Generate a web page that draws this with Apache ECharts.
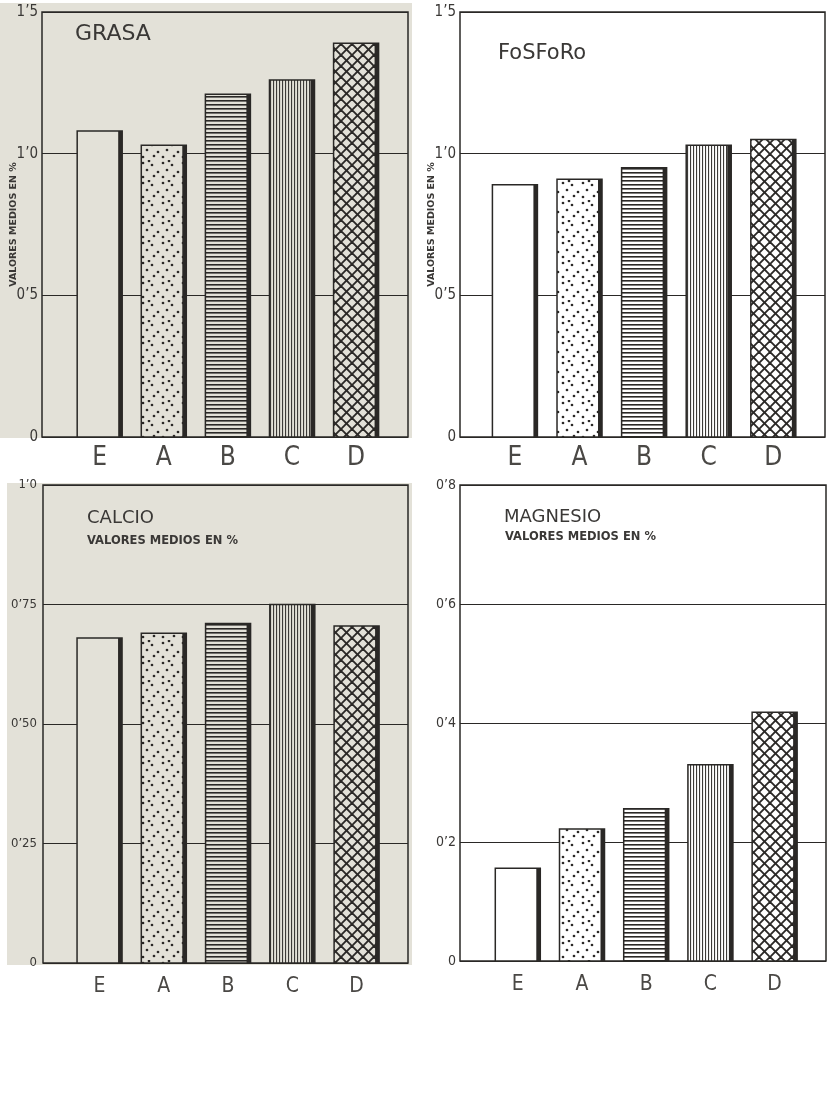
<!DOCTYPE html>
<html>
<head>
<meta charset="utf-8">
<script src="https://cdn.jsdelivr.net/npm/echarts@6/dist/echarts.min.js"></script>
<style>
html,body{margin:0;padding:0;background:#fff;}
#chart{width:831px;height:1098px;}
</style>
</head>
<body>
<div id="chart"></div>
<script>
// ---- data ----
const categories = ['E', 'A', 'B', 'C', 'D'];
const grasaValues = [1.08, 1.03, 1.21, 1.26, 1.39];
const fosforoValues = [0.89, 0.91, 0.95, 1.03, 1.05];
const calcioValues = [0.68, 0.69, 0.71, 0.75, 0.705];
const magnesioValues = [0.156, 0.222, 0.256, 0.33, 0.418];
const grasaTicks = ['0', '0\u20195', '1\u20190', '1\u20195'];
const fosforoTicks = ['0', '0\u20195', '1\u20190', '1\u20195'];
const calcioTicks = ['0', '0\u201925', '0\u201950', '0\u201975', '1\u20190'];
const magnesioTicks = ['0', '0\u20192', '0\u20194', '0\u20196', '0\u20198'];
const panelTitles = ['GRASA', 'FoSFoRo', 'CALCIO', 'MAGNESIO'];
const subtitleText = 'VALORES MEDIOS EN %';

// ---- styling helpers ----
const GRAY = '#e3e1d8';
const INK = '#2a2826';
const TEXT = '#3a3836';

function makeTile(type, bg) {
  const c = document.createElement('canvas');
  let w = 8, h = 8;
  if (type === 'dots') { w = 20; h = 20; }
  if (type === 'hlines') { w = 8; h = 4; }
  if (type === 'vlines') { w = 3; h = 8; }
  if (type === 'cross') { w = 11; h = 11; }
  c.width = w; c.height = h;
  const g = c.getContext('2d');
  g.fillStyle = bg; g.fillRect(0, 0, w, h);
  g.fillStyle = INK; g.strokeStyle = INK;
  if (type === 'dots') {
    const pts = [[3,3],[12,5],[18,12],[7,10],[14,16],[3,17],[9,1]];
    pts.forEach(p => { g.beginPath(); g.arc(p[0], p[1], 1.35, 0, Math.PI * 2); g.fill(); });
  } else if (type === 'hlines') {
    g.fillRect(0, 0, w, 1.6);
  } else if (type === 'vlines') {
    g.fillStyle = '#3c3a38';
    g.fillRect(0, 0, 1.1, h);
  } else if (type === 'cross') {
    g.lineWidth = 1.9;
    for (let o = -w; o <= w; o += w) {
      g.beginPath(); g.moveTo(o, 0); g.lineTo(o + w, h); g.stroke();
      g.beginPath(); g.moveTo(o + w, 0); g.lineTo(o, h); g.stroke();
    }
  }
  return c;
}
const patternTypes = ['plain', 'dots', 'hlines', 'vlines', 'cross'];
function fillFor(type, bg) {
  if (type === 'plain') return bg;
  return { type: 'pattern', image: makeTile(type, bg), repeat: 'repeat' };
}

const panels = [
  { values: grasaValues, ticks: grasaTicks, max: 1.5, interval: 0.5, bg: GRAY,
    grid: { left: 42, top: 12, width: 366, height: 425 }, xmin: -0.9, xmax: 4.81,
    yName: subtitleText, xFont: 26, xMargin: 8, yFont: 15, yMargin: 4 },
  { values: fosforoValues, ticks: fosforoTicks, max: 1.5, interval: 0.5, bg: '#ffffff',
    grid: { left: 460, top: 12, width: 365, height: 425 }, xmin: -0.85, xmax: 4.8,
    yName: subtitleText, xFont: 26, xMargin: 8, yFont: 15, yMargin: 4 },
  { values: calcioValues, ticks: calcioTicks, max: 1.0, interval: 0.25, bg: GRAY,
    grid: { left: 43, top: 485, width: 365, height: 478 }, xmin: -0.88, xmax: 4.8,
    yName: '', xFont: 21, xMargin: 13, yFont: 13, yMargin: 6 },
  { values: magnesioValues, ticks: magnesioTicks, max: 0.8, interval: 0.2, bg: '#ffffff',
    grid: { left: 460, top: 485, width: 366, height: 476 }, xmin: -0.9, xmax: 4.8,
    yName: '', xFont: 21, xMargin: 13, yFont: 14, yMargin: 4 }
];

const labelFont = "'Liberation Sans Narrow', 'DejaVu Sans Condensed', sans-serif";
const BAR_W = 45, EDGE = 4;

const grids = [], xAxes = [], yAxes = [], series = [];
panels.forEach((p, i) => {
  const fills = patternTypes.map(t => fillFor(t, p.bg));
  grids.push(Object.assign({ show: true, borderColor: INK, borderWidth: 1.5, backgroundColor: 'transparent' }, p.grid));
  xAxes.push({
    type: 'value', gridIndex: i, min: p.xmin, max: p.xmax,
    axisLine: { show: false }, axisTick: { show: false }, splitLine: { show: false },
    axisLabel: {
      customValues: categories.map((c, k) => k),
      formatter: v => categories[Math.round(v)] || '',
      color: '#4a4845', fontSize: p.xFont, fontFamily: labelFont, margin: p.xMargin
    }
  });
  yAxes.push({
    type: 'value', gridIndex: i, min: 0, max: p.max, interval: p.interval,
    axisLine: { show: false }, axisTick: { show: false },
    splitLine: { show: true, lineStyle: { color: INK, width: 1.2 } },
    axisLabel: {
      formatter: v => p.ticks[Math.round(v / p.interval)],
      color: TEXT, fontSize: p.yFont, fontFamily: labelFont, margin: p.yMargin
    },
    name: p.yName, nameLocation: 'middle', nameGap: 23, nameRotate: 90, nameMoveOverlap: false,
    nameTextStyle: { fontSize: 9.5, fontWeight: 'bold', color: TEXT, fontFamily: "'DejaVu Sans', sans-serif" }
  });
  series.push({
    type: 'custom', xAxisIndex: i, yAxisIndex: i,
    encode: { x: 0, y: 1 },
    data: p.values.map((v, k) => [k, v]),
    silent: true,
    renderItem: (params, api) => {
      const k = api.value(0), v = api.value(1);
      const top = api.coord([k, v]);
      const base = api.coord([k, 0]);
      const left = top[0] - BAR_W / 2;
      const h = base[1] - top[1];
      return {
        type: 'group',
        children: [
          { type: 'rect', shape: { x: left, y: top[1], width: BAR_W, height: h },
            style: { fill: fills[k], stroke: INK, lineWidth: 1.5 } },
          { type: 'rect', shape: { x: left + BAR_W - EDGE, y: top[1], width: EDGE, height: h },
            style: { fill: INK } }
        ]
      };
    }
  });
});

const titleStyle = { color: TEXT, fontWeight: 'normal', fontFamily: "'DejaVu Sans', sans-serif" };
const titles = [
  { text: panelTitles[0], left: 75, top: 23, padding: 0, textStyle: Object.assign({}, titleStyle, { fontSize: 22 }) },
  { text: panelTitles[1], left: 498, top: 43, padding: 0, textStyle: Object.assign({}, titleStyle, { fontSize: 21 }) },
  { text: panelTitles[2], left: 87, top: 509, padding: 0, textStyle: Object.assign({}, titleStyle, { fontSize: 18 }) },
  { text: subtitleText, left: 87, top: 535, padding: 0, textStyle: Object.assign({}, titleStyle, { fontSize: 11.5, fontWeight: 'bold' }) },
  { text: panelTitles[3], left: 504, top: 508, padding: 0, textStyle: Object.assign({}, titleStyle, { fontSize: 18 }) },
  { text: subtitleText, left: 505, top: 531, padding: 0, textStyle: Object.assign({}, titleStyle, { fontSize: 11.5, fontWeight: 'bold' }) }
];

const chart = echarts.init(document.getElementById('chart'), null, { renderer: 'canvas' });
chart.setOption({
  backgroundColor: '#ffffff',
  animation: false,
  graphic: [
    { type: 'rect', z: -10, silent: true, shape: { x: 0, y: 3, width: 412, height: 435 }, style: { fill: GRAY } },
    { type: 'rect', z: -10, silent: true, shape: { x: 7, y: 483, width: 405, height: 482 }, style: { fill: GRAY } }
  ],
  title: titles,
  grid: grids,
  xAxis: xAxes,
  yAxis: yAxes,
  series: series
});
</script>
</body>
</html>
